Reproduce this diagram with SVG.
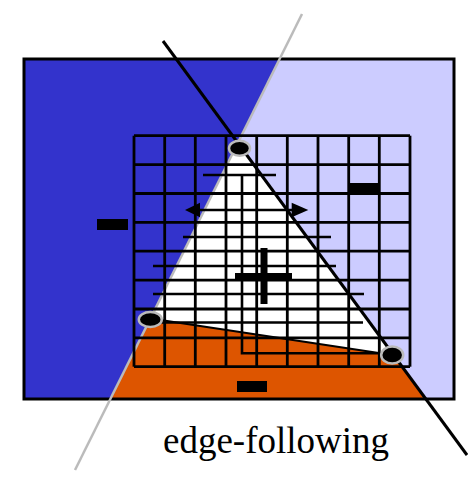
<svg xmlns="http://www.w3.org/2000/svg" width="468" height="483" viewBox="0 0 468 483">
<defs>
<style>
.grid line{stroke:#000;stroke-width:2.8}
.scan line,.scan path{stroke:#000;stroke-width:2.6;fill:none}
.vtx{fill:#000;stroke:#BBBBBB;stroke-width:2.5}
.minus{fill:#000}
</style>
</defs>
<rect width="468" height="483" fill="#fff"/>
<g id="regions">
<rect x="24" y="59" width="430" height="340" fill="#3333CC"/>
<polygon points="279.6,59 454,59 454,399 110.3,399" fill="#CCCCFF"/>
<polygon points="237.8,142.9 150.6,318.5 392,355" fill="#fff"/>
<polygon points="150.6,318.5 392,355 425.8,399 110.3,399" fill="#DD5500"/>
<rect x="24" y="59" width="430" height="340" fill="none" stroke="#000" stroke-width="3"/>
</g>
<g id="edge-lines">
<line x1="302" y1="14" x2="75" y2="470" stroke="#BBBBBB" stroke-width="2.5"/>
</g>
<g id="grid" class="grid">
<line x1="134" y1="135.7" x2="410" y2="135.7"/>
<line x1="134" y1="164.6" x2="410" y2="164.6"/>
<line x1="134" y1="193.5" x2="410" y2="193.5"/>
<line x1="134" y1="222.3" x2="410" y2="222.3"/>
<line x1="134" y1="251.2" x2="410" y2="251.2"/>
<line x1="134" y1="280.1" x2="410" y2="280.1"/>
<line x1="134" y1="309" x2="410" y2="309"/>
<line x1="134" y1="337.8" x2="410" y2="337.8"/>
<line x1="134" y1="366.7" x2="410" y2="366.7"/>
<line x1="134" y1="135.7" x2="134" y2="366.7"/>
<line x1="164.7" y1="135.7" x2="164.7" y2="366.7"/>
<line x1="195.3" y1="135.7" x2="195.3" y2="366.7"/>
<line x1="226" y1="135.7" x2="226" y2="366.7"/>
<line x1="256.7" y1="135.7" x2="256.7" y2="366.7"/>
<line x1="287.3" y1="135.7" x2="287.3" y2="366.7"/>
<line x1="318" y1="135.7" x2="318" y2="366.7"/>
<line x1="348.7" y1="135.7" x2="348.7" y2="366.7"/>
<line x1="379.3" y1="135.7" x2="379.3" y2="366.7"/>
<line x1="410" y1="135.7" x2="410" y2="366.7"/>
</g>
<g id="scanlines" class="scan">
<line x1="203" y1="175" x2="276" y2="175"/>
<line x1="195" y1="210" x2="296" y2="210"/>
<line x1="183" y1="237" x2="331" y2="237"/>
<line x1="153" y1="266" x2="336" y2="266"/>
<line x1="153" y1="294" x2="364" y2="294"/>
<line x1="160" y1="322.5" x2="363" y2="322.5"/>
<path d="M242,175 V353.3 H382"/>
<polygon points="185,210 200,202.7 200,217.3" fill="#000" stroke="none"/>
<polygon points="308.3,210 291.7,202.7 291.7,217.3" fill="#000" stroke="none"/>
</g>
<g id="triangle-edges">
<line x1="150.6" y1="318.5" x2="392" y2="355" stroke="#000" stroke-width="2"/>
<line x1="163" y1="41" x2="467" y2="455" stroke="#000" stroke-width="3"/>
</g>
<g id="vertex-top"><ellipse class="vtx" cx="239.5" cy="148.3" rx="10.5" ry="7.5"/></g>
<g id="vertex-left"><ellipse class="vtx" cx="150.3" cy="319.5" rx="11.5" ry="7.5"/></g>
<g id="vertex-right"><ellipse class="vtx" cx="392.2" cy="355" rx="11" ry="8.5"/></g>
<g id="signs">
<rect class="minus" x="97" y="219" width="31" height="11"/>
<rect class="minus" x="348" y="183" width="32" height="10.5"/>
<rect class="minus" x="237" y="381" width="30" height="11"/>
<rect class="minus" x="235" y="273" width="57" height="6"/>
<rect class="minus" x="260.5" y="248" width="7" height="56"/>
</g>
<text x="163" y="453" font-family="'Liberation Serif', 'Times New Roman', serif" font-size="37" fill="#000">edge-following</text>
</svg>
